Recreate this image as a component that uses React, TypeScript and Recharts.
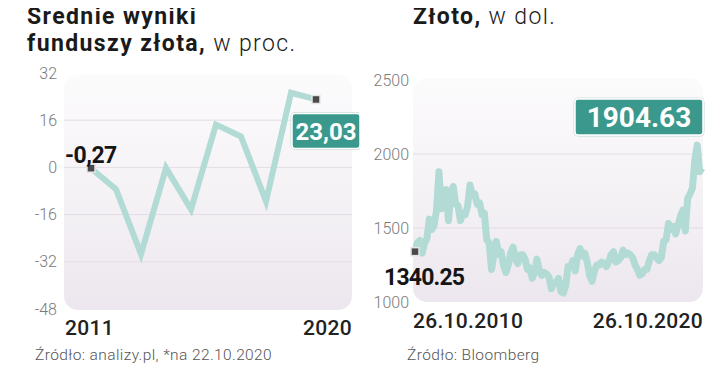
import { LineChart, Line, XAxis, YAxis, ReferenceLine } from "recharts";

// lewy wykres: średnie wyniki funduszy złota (w proc.)
const fundYears = [2011, 2012, 2013, 2014, 2015, 2016, 2017, 2018, 2019, 2020];
const fundReturns = [-0.27, -7.4, -29.4, -0.2, -14.2, 14.5, 10.5, -11.5, 25.3, 23.03];
const fundYTicks = [-48, -32, -16, 0, 16, 32];
const fundGridLines = [16, 0, -16, -32];
const fundXTicks = [2011, 2020];

// prawy wykres: złoto w dol., dane miesięczne 26.10.2010 - 26.10.2020
const goldPrices = [
  1340.25, 1400, 1415,
  1330, 1400, 1430, 1560, 1490, 1520, 1620, 1880, 1630, 1720, 1760, 1550,
  1740, 1780, 1660, 1650, 1550, 1600, 1590, 1650, 1790, 1720, 1730, 1660,
  1670, 1590, 1600, 1420, 1400, 1220, 1320, 1410, 1320, 1340, 1250, 1200,
  1250, 1330, 1370, 1290, 1260, 1320, 1320, 1290, 1220, 1230, 1160, 1200,
  1290, 1210, 1180, 1200, 1190, 1170, 1090, 1130, 1130, 1160, 1070, 1060,
  1110, 1240, 1240, 1280, 1210, 1320, 1360, 1310, 1330, 1270, 1180, 1140,
  1210, 1250, 1250, 1270, 1260, 1240, 1270, 1320, 1340, 1270, 1280, 1300,
  1350, 1320, 1330, 1320, 1300, 1250, 1220, 1180, 1190, 1220, 1220, 1280,
  1320, 1320, 1300, 1280, 1300, 1410, 1420, 1530, 1490, 1510, 1460, 1520,
  1580, 1620, 1480, 1700, 1730, 1770, 1960, 2060, 1880, 1904.63,
];
const goldTickLabels = ["26.10.2010", "26.10.2020"];
const goldYTicks = [1000, 1500, 2000, 2500];
const goldGridLines = [1500, 2000];

const fundData = fundYears.map((year, i) => ({ year, value: fundReturns[i] }));
const goldData = goldPrices.map((price, i) => ({ i, price }));
const goldXTicks = [0, goldPrices.length - 1];

const FONT = "Roboto, 'Open Sans', sans-serif";
const LINE = "#b2dbd5";
const BADGE = "#3a998c";
const GRID = "#e3dde5";

function Marker({ cx, cy }: { cx: number; cy: number }) {
  return <rect x={cx - 4} y={cy - 4} width={8} height={8} fill="#4a4a4a" stroke="#e6e6e6" strokeWidth={1.5} />;
}

function Badge({ x, y, w, h, text, size }: any) {
  return (
    <g>
      <rect x={x - 1} y={y - 1} width={w + 2} height={h + 2} rx={4} fill="none" stroke="#c9dad7" strokeWidth={1} />
      <rect x={x} y={y} width={w} height={h} rx={3} fill={BADGE} stroke="#ffffff" strokeWidth={1.5} />
      <text x={x + w / 2} y={y + h / 2} dy="0.36em" textAnchor="middle" fill="#fff" fontFamily={FONT} fontWeight={700} fontSize={size}>
        {text}
      </text>
    </g>
  );
}

function FundDot(props: any) {
  const { cx, cy, index } = props;
  const last = fundReturns.length - 1;
  if (index !== 0 && index !== last) return <g key={`fd-${index}`} />;
  const label = fundReturns[index].toFixed(2).replace(".", ",");
  return (
    <g key={`fd-${index}`}>
      <Marker cx={cx} cy={cy} />
      {index === 0 ? (
        <text x={cx - 26} y={cy - 5} fontFamily={FONT} fontWeight={700} fontSize={23} fill="#151515" letterSpacing={-0.5}>
          {label}
        </text>
      ) : (
        <Badge x={cx - 24} y={cy + 14} w={68} h={35} text={label} size={24} />
      )}
    </g>
  );
}

function GoldDot(props: any) {
  const { cx, cy, index } = props;
  const last = goldPrices.length - 1;
  if (index !== 0 && index !== last) return <g key={`gd-${index}`} />;
  const label = goldPrices[index].toFixed(2);
  return (
    <g key={`gd-${index}`}>
      {index === 0 ? (
        <>
          <Marker cx={cx} cy={cy} />
          <text x={cx - 31} y={cy + 33} fontFamily={FONT} fontWeight={700} fontSize={23} fill="#151515" letterSpacing={-0.8}>
            {label}
          </text>
        </>
      ) : (
        <Badge x={cx - 127} y={cy - 69} w={128} h={36} text={label} size={28} />
      )}
    </g>
  );
}

function EdgeTick(props: any) {
  const { x, y, payload, index, labels, startShift, endShift } = props;
  const first = index === 0;
  const text = labels ? labels[index] : String(payload.value);
  return (
    <text
      x={first ? x + startShift : x + endShift}
      y={y + 24}
      textAnchor={first ? "start" : "end"}
      fontFamily={FONT}
      fontWeight={500}
      fontSize={21}
      fill="#222"
      letterSpacing={0.3}
    >
      {text}
    </text>
  );
}

const yTickStyle = { fill: "#7a7a7a", fontSize: 16, fontWeight: 300, fontFamily: FONT };

const plotBg = (left: number, top: number, width: number, height: number) => ({
  position: "absolute" as const,
  left,
  top,
  width,
  height,
  borderRadius: 14,
  background: "linear-gradient(180deg, #fcfbfc 0%, #f4f1f5 55%, #ece7ee 100%)",
});

const titleText = { fontFamily: FONT, fontSize: 23, letterSpacing: 1.4, fill: "#1a1a1a" };

export default function App() {
  return (
    <div style={{ position: "relative", width: 720, height: 380, margin: -8, background: "#fff", fontFamily: FONT }}>
      <div style={plotBg(64, 75, 288, 235)} />
      <div style={plotBg(413, 78, 290, 224)} />

      <svg width={720} height={60} style={{ position: "absolute", left: 0, top: 0 }}>
        <text x={27} y={24} {...titleText} fontWeight={700}>Średnie wyniki</text>
        <text x={27} y={51} {...titleText}>
          <tspan fontWeight={700}>funduszy złota,</tspan>
          <tspan fontWeight={300}> w proc.</tspan>
        </text>
        <text x={413} y={24} {...titleText}>
          <tspan fontWeight={700}>Złoto,</tspan>
          <tspan fontWeight={300}> w dol.</tspan>
        </text>
      </svg>

      <div style={{ position: "absolute", left: 0, top: 0 }}>
        <LineChart width={360} height={380} data={fundData} margin={{ top: 73, right: 8, bottom: 41, left: 24 }}>
          <XAxis
            dataKey="year"
            type="number"
            domain={[2011, 2020]}
            ticks={fundXTicks}
            padding={{ left: 27, right: 36 }}
            axisLine={false}
            tickLine={false}
            tickSize={0}
            height={30}
            tick={<EdgeTick startShift={-26} endShift={36} />}
          />
          <YAxis
            type="number"
            domain={[-48, 32]}
            ticks={fundYTicks}
            width={40}
            axisLine={false}
            tickLine={false}
            tickSize={0}
            tickMargin={7}
            tick={yTickStyle}
          />
          {fundGridLines.map((v) => (
            <ReferenceLine key={v} y={v} stroke={GRID} strokeWidth={1} />
          ))}
          <Line
            dataKey="value"
            type="linear"
            stroke={LINE}
            strokeWidth={6}
            dot={FundDot}
            activeDot={false}
            isAnimationActive={false}
          />
        </LineChart>
      </div>

      <div style={{ position: "absolute", left: 360, top: 0 }}>
        <LineChart width={360} height={380} data={goldData} margin={{ top: 80, right: 17, bottom: 48, left: 13 }}>
          <XAxis
            dataKey="i"
            type="number"
            domain={[0, goldPrices.length - 1]}
            ticks={goldXTicks}
            padding={{ left: 2, right: 1 }}
            axisLine={false}
            tickLine={false}
            tickSize={0}
            height={30}
            tick={<EdgeTick labels={goldTickLabels} startShift={-2} endShift={1} />}
          />
          <YAxis
            type="number"
            domain={[1000, 2500]}
            ticks={goldYTicks}
            width={40}
            axisLine={false}
            tickLine={false}
            tickSize={0}
            tickMargin={4}
            tick={yTickStyle}
          />
          {goldGridLines.map((v) => (
            <ReferenceLine key={v} y={v} stroke={GRID} strokeWidth={1} />
          ))}
          <Line
            dataKey="price"
            type="linear"
            stroke={LINE}
            strokeWidth={7}
            strokeLinejoin="round"
            dot={GoldDot}
            activeDot={false}
            isAnimationActive={false}
          />
        </LineChart>
      </div>

      <div style={{ position: "absolute", left: 35, top: 346, fontSize: 15.5, fontWeight: 300, color: "#555", letterSpacing: 0.4 }}>
        Źródło: analizy.pl, *na 22.10.2020
      </div>
      <div style={{ position: "absolute", left: 407, top: 346, fontSize: 15.5, fontWeight: 300, color: "#555", letterSpacing: 0.4 }}>
        Źródło: Bloomberg
      </div>
    </div>
  );
}
